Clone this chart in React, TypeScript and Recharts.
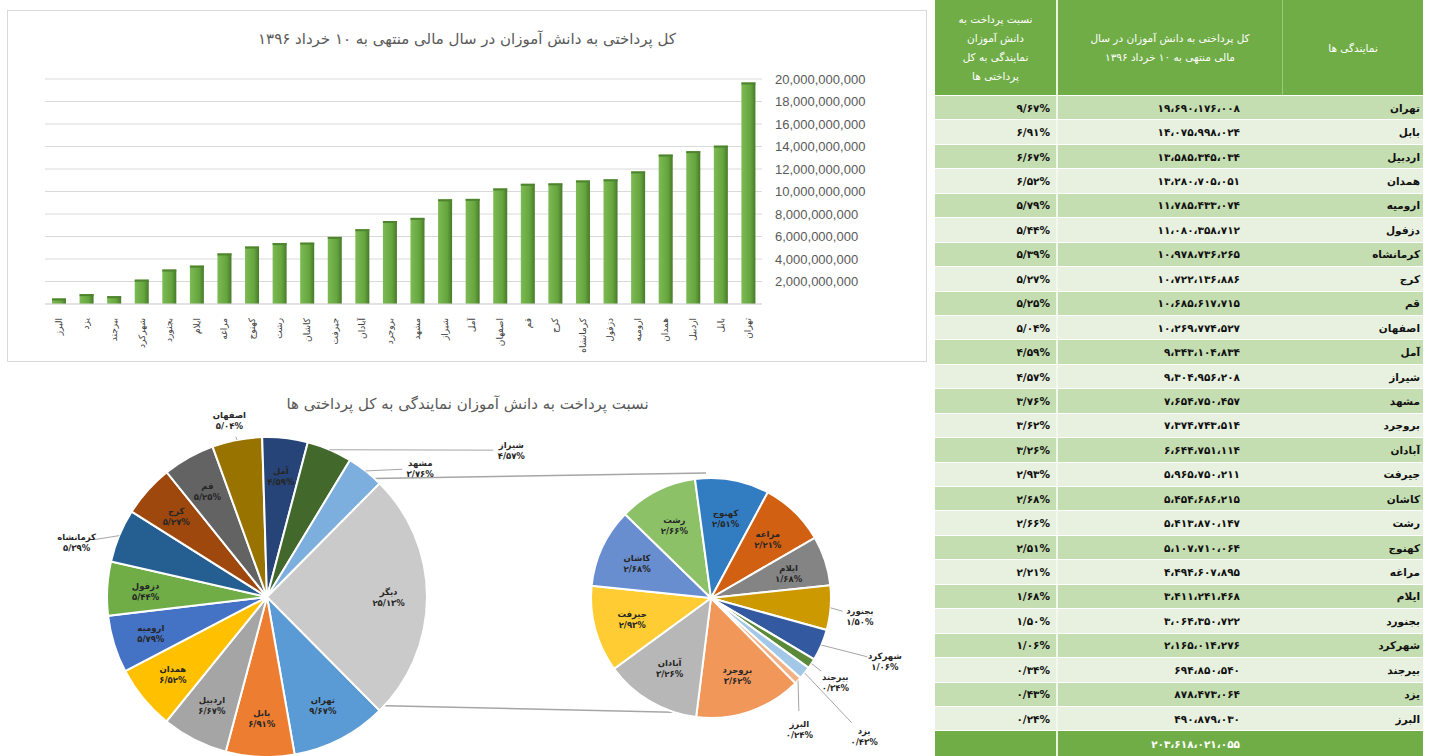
import React from "react";
import { BarChart, Bar, XAxis, YAxis, CartesianGrid, PieChart, Pie, Cell } from "recharts";

// نمایندگی ها، به ترتیب جدول (نزولی)
const branches = [
  "تهران", "بابل", "اردبیل", "همدان", "ارومیه", "دزفول", "کرمانشاه", "کرج", "قم",
  "اصفهان", "آمل", "شیراز", "مشهد", "بروجرد", "آبادان", "جیرفت", "کاشان", "رشت",
  "کهنوج", "مراغه", "ایلام", "بجنورد", "شهرکرد", "بیرجند", "یزد", "البرز",
];

// کل پرداختی (ریال)
const payments = [
  19690176008, 14075998024, 13585345034, 13280705051, 11785433074, 11080358712,
  10978736265, 10722136886, 10685617715, 10269774527, 9343104834, 9304956208,
  7654750457, 7374743514, 6644751114, 5965750211, 5454686215, 5413870147,
  5107710064, 4494607895, 3411241468, 3064350722, 2165014276, 694850540,
  878473064, 490879030,
];

const yTicks = [0, 2e9, 4e9, 6e9, 8e9, 10e9, 12e9, 14e9, 16e9, 18e9, 20e9];

const sliceColors = [
  "#5B9BD5", "#ED7D31", "#A5A5A5", "#FFC000", "#4472C4", "#70AD47", "#255E91",
  "#9E480E", "#636363", "#997300", "#264478", "#43682B", "#7CAFDD", "#F1975A",
  "#B7B7B7", "#FFCD33", "#698ED0", "#8CC168", "#327DC2", "#D26012", "#848484",
  "#CC9A00", "#335AA1", "#5A8A39", "#A3C7E7", "#F4B183",
];
const otherColor = "#CACACA";
const otherName = "دیگر";
const mainCount = 13;

const barTitle = "کل پرداختی به دانش آموزان در سال مالی منتهی به ۱۰ خرداد ۱۳۹۶";
const pieTitle = "نسبت پرداخت به دانش آموزان نمایندگی به کل پرداختی ها";
const headShare = "نسبت پرداخت به دانش آموزان نمایندگی به کل پرداختی ها";
const headTotal = "کل پرداختی به دانش آموزان در سال مالی منتهی به ۱۰ خرداد ۱۳۹۶";
const headName = "نمایندگی ها";

// labels placed outside their slice: [distance from centre px, angle deg]
const outsideLabels: Record<string, [number, number]> = {
  "کرمانشاه": [198, 164],
  "اصفهان": [181, 102],
  "شیراز": [285, 31],
  "مشهد": [200, 40],
  "بجنورد": [150, -7],
  "شهرکرد": [185, -20],
  "بیرجند": [150, -34],
  "یزد": [206, -42],
  "البرز": [158, -56],
};

const FONT = "'DejaVu Sans', sans-serif";
const fa = (s: string) => s.replace(/\d/g, (d) => "۰۱۲۳۴۵۶۷۸۹"[+d]);
const faNum = (n: number) => fa(String(n).replace(/\B(?=(\d{3})+(?!\d))/g, "،"));
const total = payments.reduce((a, b) => a + b, 0);
const faPct = (v: number) => fa(((v / total) * 100).toFixed(2).replace(".", "/")) + "%";

const rows = branches.map((name, i) => ({
  name,
  value: payments[i],
  share: faPct(payments[i]),
  color: sliceColors[i],
}));
const otherValue = rows.slice(mainCount).reduce((a, r) => a + r.value, 0);
const mainPie = [
  ...rows.slice(0, mainCount),
  { name: otherName, value: otherValue, share: faPct(otherValue), color: otherColor },
];
const subPie = rows.slice(mainCount);
const halfOther = ((otherValue / total) * 360) / 2;

const P1 = { cx: 262, cy: 217, r: 160 };
const P2 = { cx: 706, cy: 218, r: 120 };

const Bar3D = (props: any) => {
  const { x, y, width, height } = props;
  if (!height || height <= 0) return null;
  return (
    <g>
      <rect x={x} y={y} width={width} height={height} fill="url(#barGrad)" />
      <rect x={x} y={y} width={width} height={2} fill="#4E8430" />
    </g>
  );
};

const NameTick = (props: any) => {
  const { x, y, payload } = props;
  return (
    <text
      transform={`translate(${x + 3},${y + 6}) rotate(-90)`}
      textAnchor="end"
      fontSize={9}
      fill="#404040"
      fontFamily={FONT}
    >
      {payload.value}
    </text>
  );
};

const RAD = Math.PI / 180;
const makeLabel = (inner: number) => (props: any) => {
  const { cx, cy, midAngle, outerRadius, payload } = props;
  const name = payload?.name ?? props.name;
  const share = payload?.share ?? "";
  const cos = Math.cos(-midAngle * RAD);
  const sin = Math.sin(-midAngle * RAD);
  const spot = outsideLabels[name];
  const textProps = { textAnchor: "middle" as const, fontSize: 8.5, fontWeight: "bold", fill: "#262626", fontFamily: FONT };
  if (!spot) {
    const r = outerRadius * inner;
    const x = cx + r * cos;
    const y = cy + r * sin;
    return (
      <text x={x} y={y} {...textProps}>
        <tspan x={x} dy={-2}>{name}</tspan>
        <tspan x={x} dy={11}>{share}</tspan>
      </text>
    );
  }
  const [dist, ang] = spot;
  const lx = cx + dist * Math.cos(-ang * RAD);
  const ly = cy + dist * Math.sin(-ang * RAD);
  const sx = cx + outerRadius * cos;
  const sy = cy + outerRadius * sin;
  const vx = sx - lx;
  const vy = sy - ly;
  const len = Math.hypot(vx, vy) || 1;
  const gap = Math.min(18, len);
  const ex = lx + (vx / len) * gap;
  const ey = ly + (vy / len) * gap;
  return (
    <g>
      {len > 20 && <line x1={sx} y1={sy} x2={ex} y2={ey} stroke="#A6A6A6" strokeWidth={1} />}
      <text x={lx} y={ly} {...textProps}>
        <tspan x={lx} dy={-2}>{name}</tspan>
        <tspan x={lx} dy={11}>{share}</tspan>
      </text>
    </g>
  );
};

const COLS = [123, 225, 140];
const ROW_H = 24.45;

function DataTable() {
  const cellBase: React.CSSProperties = {
    boxSizing: "border-box",
    height: "100%",
    display: "flex",
    alignItems: "center",
    fontFamily: FONT,
    fontSize: 10.5,
    fontWeight: "bold",
    color: "#111",
  };
  return (
    <div style={{ position: "absolute", left: 935, top: 0, width: 488, height: 756, fontFamily: FONT }}>
      <div style={{ display: "flex", height: 96, background: "#70AD47", color: "#fff", borderBottom: "1px solid #fff", boxSizing: "border-box" }}>
        <div style={{ width: COLS[0], borderRight: "2px solid #E8F3E0", boxSizing: "border-box", display: "flex", alignItems: "center", justifyContent: "center", textAlign: "center", direction: "rtl", fontSize: 10.5, lineHeight: "19px", padding: "0 12px" }}>
          {headShare}
        </div>
        <div style={{ width: COLS[1], borderRight: "1px solid #9CCB7D", boxSizing: "border-box", display: "flex", alignItems: "center", justifyContent: "center", textAlign: "center", direction: "rtl", fontSize: 10.5, lineHeight: "19px", padding: "0 22px" }}>
          {headTotal}
        </div>
        <div style={{ width: COLS[2], display: "flex", alignItems: "center", justifyContent: "center", direction: "rtl", fontSize: 10.5 }}>
          {headName}
        </div>
      </div>
      {rows.map((r, i) => (
        <div
          key={r.name}
          style={{
            display: "flex",
            height: ROW_H,
            background: i % 2 === 0 ? "#C5DEB1" : "#E8F1E0",
            borderBottom: "1px solid #fff",
            boxSizing: "border-box",
          }}
        >
          <div style={{ ...cellBase, width: COLS[0], borderRight: "2px solid #F2F8EE", justifyContent: "flex-end", paddingRight: 6, direction: "ltr" }}>
            {r.share}
          </div>
          <div style={{ ...cellBase, width: COLS[1], justifyContent: "flex-end", paddingRight: 43, direction: "ltr" }}>
            {faNum(r.value)}
          </div>
          <div style={{ ...cellBase, width: COLS[2], justifyContent: "flex-start", paddingRight: 3, direction: "rtl" }}>
            {r.name}
          </div>
        </div>
      ))}
      <div style={{ display: "flex", height: 756 - 96 - ROW_H * rows.length, background: "#70AD47" }}>
        <div style={{ width: COLS[0], borderRight: "2px solid #E8F3E0", boxSizing: "border-box" }} />
        <div style={{ ...cellBase, width: COLS[1], justifyContent: "flex-end", paddingRight: 43, color: "#fff", direction: "ltr" }}>
          {faNum(total)}
        </div>
        <div style={{ width: COLS[2] }} />
      </div>
    </div>
  );
}

export default function App() {
  const barData = rows.map((r) => ({ name: r.name, value: r.value }));
  const a1 = halfOther * RAD;
  return (
    <div style={{ position: "absolute", left: 0, top: 0, width: 1429, height: 756, background: "#fff", overflow: "hidden" }}>
      {/* column chart panel */}
      <div style={{ position: "absolute", left: 7, top: 10, width: 920, height: 352, border: "1px solid #D9D9D9", boxSizing: "border-box" }} />
      <div style={{ position: "absolute", left: 7, top: 30, width: 920, textAlign: "center", direction: "rtl", fontFamily: FONT, fontSize: 15, color: "#595959" }}>
        {barTitle}
      </div>
      <div style={{ position: "absolute", left: 7, top: 10 }}>
        <BarChart width={920} height={352} data={barData} margin={{ top: 69, right: 55, left: 38, bottom: 0 }}>
          <defs>
            <linearGradient id="barGrad" x1="0" y1="0" x2="1" y2="0">
              <stop offset="0%" stopColor="#7CBA53" />
              <stop offset="65%" stopColor="#66A53E" />
              <stop offset="100%" stopColor="#467A29" />
            </linearGradient>
          </defs>
          <CartesianGrid vertical={false} stroke="#D9D9D9" />
          <XAxis
            dataKey="name"
            reversed
            interval={0}
            tickLine={false}
            axisLine={{ stroke: "#D9D9D9" }}
            height={58}
            tick={<NameTick />}
          />
          <YAxis
            orientation="right"
            domain={[0, 20e9]}
            ticks={yTicks}
            interval={0}
            width={110}
            axisLine={false}
            tickLine={false}
            tickMargin={7}
            tickFormatter={(v: number) => (v === 0 ? "" : v.toLocaleString("en-US"))}
            tick={{ fill: "#595959", fontSize: 13, fontFamily: "'Liberation Sans', Arial, sans-serif", textAnchor: "start" }}
          />
          <Bar dataKey="value" barSize={14} shape={<Bar3D />} isAnimationActive={false} />
        </BarChart>
      </div>

      {/* pie of pie panel */}
      <div style={{ position: "absolute", left: 0, top: 395, width: 935, textAlign: "center", direction: "rtl", fontFamily: FONT, fontSize: 15, color: "#595959" }}>
        {pieTitle}
      </div>
      <svg style={{ position: "absolute", left: 0, top: 375 }} width={925} height={381}>
        <line
          x1={P1.cx + P1.r * Math.cos(a1)}
          y1={P1.cy - P1.r * Math.sin(a1)}
          x2={P2.cx}
          y2={P2.cy - P2.r}
          stroke="#A6A6A6"
          strokeWidth={1.5}
        />
        <line
          x1={P1.cx + P1.r * Math.cos(a1)}
          y1={P1.cy + P1.r * Math.sin(a1)}
          x2={P2.cx}
          y2={P2.cy + P2.r}
          stroke="#A6A6A6"
          strokeWidth={1.5}
        />
      </svg>
      <div style={{ position: "absolute", left: 0, top: 375 }}>
        <PieChart width={925} height={381}>
          <Pie
            data={mainPie}
            dataKey="value"
            nameKey="name"
            cx={P1.cx}
            cy={P1.cy}
            outerRadius={P1.r}
            startAngle={-halfOther}
            endAngle={-halfOther - 360}
            stroke="#fff"
            strokeWidth={2}
            label={makeLabel(0.76)}
            labelLine={false}
            isAnimationActive={false}
          >
            {mainPie.map((d) => (
              <Cell key={d.name} fill={d.color} />
            ))}
          </Pie>
          <Pie
            data={subPie}
            dataKey="value"
            nameKey="name"
            cx={P2.cx}
            cy={P2.cy}
            outerRadius={P2.r}
            startAngle={-halfOther}
            endAngle={-halfOther - 360}
            stroke="#fff"
            strokeWidth={2}
            label={makeLabel(0.68)}
            labelLine={false}
            isAnimationActive={false}
          >
            {subPie.map((d) => (
              <Cell key={d.name} fill={d.color} />
            ))}
          </Pie>
        </PieChart>
      </div>

      <DataTable />
    </div>
  );
}
